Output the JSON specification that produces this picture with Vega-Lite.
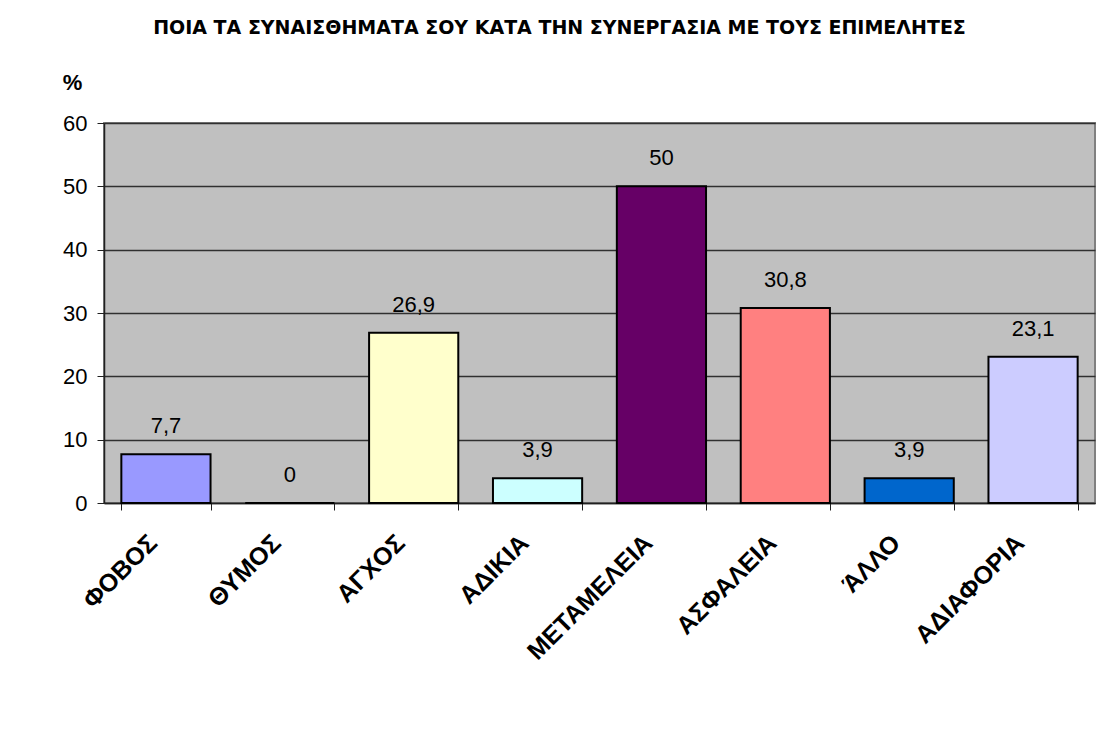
{
  "$schema": "https://vega.github.io/schema/vega-lite/v6.json",
  "autosize": {"type": "none"},
  "width": 991,
  "height": 380,
  "padding": {"left": 104, "top": 123, "right": 11, "bottom": 238},
  "background": "white",
  "title": {
    "text": "ΠΟΙΑ ΤΑ ΣΥΝΑΙΣΘΗΜΑΤΑ ΣΟΥ ΚΑΤΑ ΤΗΝ ΣΥΝΕΡΓΑΣΙΑ ΜΕ ΤΟΥΣ ΕΠΙΜΕΛΗΤΕΣ",
    "font": "DejaVu Sans",
    "fontSize": 19,
    "fontWeight": "bold",
    "color": "black",
    "anchor": "middle",
    "dx": -40,
    "offset": 33
  },
  "data": {
    "values": [
      {"category": "ΦΟΒΟΣ", "value": 7.7, "label": "7,7"},
      {"category": "ΘΥΜΟΣ", "value": 0, "label": "0"},
      {"category": "ΑΓΧΟΣ", "value": 26.9, "label": "26,9"},
      {"category": "ΑΔΙΚΙΑ", "value": 3.9, "label": "3,9"},
      {"category": "ΜΕΤΑΜΕΛΕΙΑ", "value": 50, "label": "50"},
      {"category": "ΑΣΦΑΛΕΙΑ", "value": 30.8, "label": "30,8"},
      {"category": "ΆΛΛΟ", "value": 3.9, "label": "3,9"},
      {"category": "ΑΔΙΑΦΟΡΙΑ", "value": 23.1, "label": "23,1"}
    ]
  },
  "encoding": {
    "x": {
      "field": "category",
      "type": "nominal",
      "sort": null,
      "scale": {"paddingInner": 0.28, "paddingOuter": 0.14},
      "axis": {
        "title": null,
        "tickBand": "extent",
        "labelAngle": -45,
        "labelAlign": "right",
        "labelBaseline": "top",
        "labelOffset": -22,
        "labelFont": "Liberation Sans",
        "labelFontSize": 25,
        "labelFontWeight": "bold",
        "labelColor": "black",
        "labelPadding": 20,
        "tickSize": 7,
        "tickColor": "#202020",
        "domainColor": "#202020",
        "domainWidth": 1.5,
        "grid": false
      }
    },
    "y": {
      "field": "value",
      "type": "quantitative",
      "scale": {"domain": [0, 60], "nice": false},
      "axis": {
        "title": "%",
        "titleAngle": 0,
        "titleX": -32,
        "titleY": -41,
        "titleAlign": "center",
        "titleBaseline": "middle",
        "titleFont": "Liberation Sans",
        "titleFontSize": 22,
        "titleFontWeight": "bold",
        "titleColor": "black",
        "values": [0, 10, 20, 30, 40, 50, 60],
        "labelFont": "Liberation Sans",
        "labelFontSize": 22,
        "labelColor": "black",
        "labelPadding": 10,
        "tickSize": 7,
        "tickColor": "#202020",
        "domainColor": "#202020",
        "domainWidth": 1.5,
        "grid": true,
        "gridColor": "#303030",
        "gridWidth": 1.5,
        "gridOpacity": 1
      }
    }
  },
  "layer": [
    {
      "mark": {"type": "bar", "stroke": "black", "strokeWidth": 2},
      "encoding": {
        "color": {
          "field": "category",
          "type": "nominal",
          "scale": {
            "domain": ["ΦΟΒΟΣ", "ΘΥΜΟΣ", "ΑΓΧΟΣ", "ΑΔΙΚΙΑ", "ΜΕΤΑΜΕΛΕΙΑ", "ΑΣΦΑΛΕΙΑ", "ΆΛΛΟ", "ΑΔΙΑΦΟΡΙΑ"],
            "range": ["#9999FF", "#993366", "#FFFFCC", "#CCFFFF", "#660066", "#FF8080", "#0066CC", "#CCCCFF"]
          },
          "legend": null
        }
      }
    },
    {
      "mark": {
        "type": "text",
        "baseline": "bottom",
        "dy": -16,
        "font": "Liberation Sans",
        "fontSize": 22,
        "color": "black"
      },
      "encoding": {
        "text": {"field": "label", "type": "nominal"}
      }
    }
  ],
  "config": {
    "view": {"fill": "#C0C0C0", "stroke": "#808080", "strokeWidth": 2}
  }
}
